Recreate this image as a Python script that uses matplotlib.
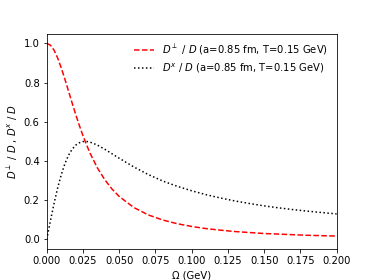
import matplotlib
matplotlib.use("Agg")
import matplotlib.pyplot as plt

# frequency (GeV) and ratios
omega = [0.0, 0.0025, 0.005, 0.0075, 0.01, 0.0125, 0.015, 0.0175, 0.02, 0.0225,
         0.025, 0.0275, 0.03, 0.035, 0.04, 0.045, 0.05, 0.06, 0.07, 0.08,
         0.09, 0.1, 0.11, 0.12, 0.13, 0.14, 0.15, 0.16, 0.17, 0.18, 0.19, 0.2]
d_perp = [1.000, 0.991, 0.966, 0.926, 0.875, 0.818, 0.757, 0.696, 0.637, 0.581,
          0.529, 0.482, 0.438, 0.364, 0.305, 0.257, 0.219, 0.163, 0.125, 0.099,
          0.080, 0.066, 0.055, 0.047, 0.040, 0.035, 0.030, 0.027, 0.024, 0.021,
          0.019, 0.017]
d_x = [0.000, 0.094, 0.182, 0.262, 0.330, 0.386, 0.429, 0.460, 0.481, 0.493,
       0.499, 0.500, 0.496, 0.481, 0.460, 0.437, 0.414, 0.370, 0.331, 0.298,
       0.271, 0.248, 0.228, 0.211, 0.196, 0.183, 0.171, 0.161, 0.152, 0.144,
       0.137, 0.130]

fig, ax = plt.subplots(figsize=(374 / 72, 280 / 72), dpi=72)
ax.plot(omega, d_perp, 'r--', label=r'$D^\perp$ / $D$ (a=0.85 fm, T=0.15 GeV)')
ax.plot(omega, d_x, 'k:', label=r'$D^x$ / $D$ (a=0.85 fm, T=0.15 GeV)')
ax.set_xlim(0, 0.2)
ax.set_xlabel('Ω (GeV)')
ax.set_ylabel(r'$D^\perp$ / $D$ , $D^x$ / $D$')
ax.legend(loc='upper right', frameon=False)
fig.savefig('out.png', dpi=72)
